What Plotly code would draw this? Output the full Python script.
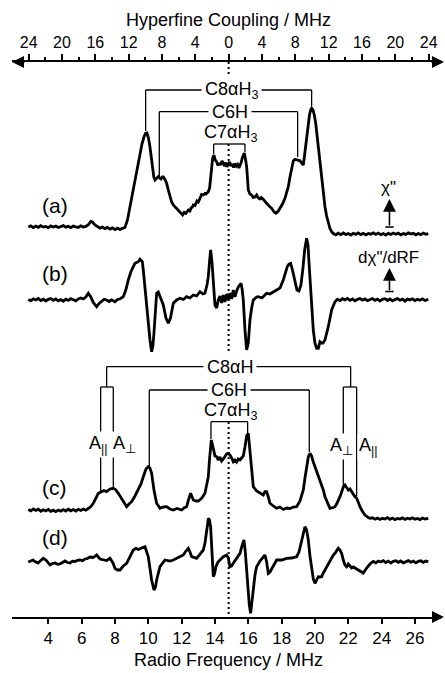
import plotly.graph_objects as go

# ---------------- data (frequency in MHz, intensity in arbitrary units) ----------------
larmor_h = 14.82  # proton Larmor frequency (MHz) -> hyperfine zero

spec_a = [
    (2.80, 3.0), (2.95, 4.2), (3.10, 2.4), (3.25, 3.9), (3.40, 2.7), (3.55, 4.3), (3.70, 2.9), (3.85, 3.6),
    (4.00, 2.3), (4.15, 4.1), (4.30, 3.0), (4.45, 3.9), (4.60, 2.5), (4.75, 3.6), (4.90, 4.4), (5.05, 2.9),
    (5.20, 3.7), (5.35, 2.4), (5.50, 3.9), (5.65, 3.1), (5.80, 2.6), (5.95, 4.1), (6.10, 3.0), (6.25, 3.6),
    (6.40, 5.2), (6.55, 8.6), (6.65, 8.0), (6.80, 5.0), (6.95, 3.2), (7.10, 1.9), (7.25, 3.0), (7.40, 1.4),
    (7.55, 2.6), (7.70, 0.9), (7.85, 2.1), (8.00, 0.4), (8.15, 1.8), (8.30, 0.5), (8.45, 1.6), (8.60, 2.5),
    (8.75, 10), (8.90, 23), (9.05, 36), (9.20, 50), (9.35, 64), (9.50, 77), (9.62, 86), (9.74, 93),
    (9.83, 96.5), (9.92, 97), (10.01, 92), (10.10, 83), (10.18, 72), (10.26, 60), (10.33, 53), (10.40, 50),
    (10.50, 52), (10.60, 53.5), (10.68, 52), (10.76, 51), (10.84, 53), (10.90, 53), (11.00, 50.5),
    (11.10, 46.7), (11.20, 40), (11.30, 33.3), (11.40, 28), (11.50, 25), (11.65, 22.5), (11.80, 20),
    (11.95, 17), (12.06, 15), (12.15, 17.5), (12.25, 16.5), (12.40, 20), (12.50, 19), (12.56, 22),
    (12.65, 23), (12.70, 25), (12.80, 24.5), (12.92, 29), (13.00, 28), (13.10, 31.7), (13.20, 35.5),
    (13.30, 35), (13.40, 36.5), (13.46, 36), (13.55, 38), (13.60, 38.3), (13.68, 42), (13.74, 50),
    (13.80, 62), (13.86, 71.7), (13.94, 75), (14.02, 70), (14.10, 68.3), (14.18, 64.5), (14.25, 67),
    (14.33, 65), (14.42, 69), (14.50, 67), (14.58, 64), (14.65, 67.5), (14.72, 63), (14.80, 66),
    (14.88, 68), (14.96, 64), (15.04, 66), (15.12, 62.5), (15.20, 66.5), (15.28, 64), (15.36, 65.5),
    (15.44, 62), (15.52, 65), (15.58, 68), (15.64, 72), (15.70, 76), (15.76, 77), (15.84, 70),
    (15.90, 63.3), (15.95, 52), (16.00, 40), (16.10, 36), (16.20, 35), (16.30, 32.5), (16.40, 33),
    (16.50, 35), (16.60, 32), (16.70, 31), (16.78, 32.5), (16.88, 31), (17.00, 28), (17.10, 26.7),
    (17.25, 24), (17.40, 21.7), (17.55, 18), (17.66, 16.7), (17.78, 18.5), (17.90, 21.7), (18.05, 26),
    (18.20, 31.7), (18.30, 37), (18.40, 43.3), (18.50, 53), (18.60, 63.3), (18.70, 69), (18.80, 70.7),
    (18.90, 70), (19.00, 69.5), (19.10, 69.3), (19.20, 67), (19.30, 65), (19.40, 78), (19.50, 93.3),
    (19.60, 108), (19.67, 115), (19.74, 120), (19.80, 121.7), (19.88, 120), (19.96, 115), (20.05, 106),
    (20.20, 83.3), (20.30, 66), (20.40, 50), (20.50, 36), (20.60, 23.3), (20.70, 14), (20.80, 6.7),
    (20.90, 1.5), (21.00, -1.7), (21.10, -3.5), (21.25, -4.8), (21.40, -3.2), (21.55, -4.6), (21.70, -3.0),
    (21.85, -4.5), (22.00, -3.6), (22.15, -5.0), (22.30, -3.3), (22.45, -4.4), (22.60, -2.9), (22.75, -4.6),
    (22.90, -3.4), (23.05, -4.9), (23.20, -3.5), (23.35, -4.2), (23.50, -2.8), (23.65, -4.4), (23.80, -3.1),
    (23.95, -4.7), (24.10, -3.6), (24.25, -5.0), (24.40, -3.4), (24.55, -4.5), (24.70, -3.0), (24.85, -4.3),
    (25.00, -3.2), (25.15, -4.9), (25.30, -3.6), (25.45, -4.4), (25.60, -2.9), (25.75, -4.1), (25.90, -3.3),
    (26.05, -4.8), (26.20, -3.5), (26.35, -4.6), (26.50, -3.1), (26.65, -4.3), (26.80, -3.6),
]

spec_b = [
    (2.80, 0.5), (2.95, -0.8), (3.10, 1.2), (3.25, 0.0), (3.40, 1.5), (3.55, -0.5), (3.70, 0.8), (3.85, -1.0),
    (4.00, 0.6), (4.15, 1.4), (4.30, -0.3), (4.45, 1.0), (4.60, -0.9), (4.75, 0.4), (4.90, -1.2), (5.05, 0.9),
    (5.20, -0.4), (5.35, 1.3), (5.50, 0.2), (5.65, -0.8), (5.80, 1.1), (5.95, 2.0), (6.10, 1.0), (6.25, 3.0),
    (6.40, 6.7), (6.55, 3.0), (6.70, -2.5), (6.90, -6.7), (7.05, -3.5), (7.20, -1.0), (7.35, 0.8), (7.50, 0.0),
    (7.65, -1.5), (7.80, 0.2), (8.00, -1.7), (8.15, 0.5), (8.30, 1.0), (8.50, 3.3), (8.65, 10), (8.80, 20),
    (8.95, 28), (9.10, 33.3), (9.20, 36.7), (9.30, 37.5), (9.40, 38.3), (9.50, 40.7), (9.58, 39.5),
    (9.64, 38.3), (9.70, 30), (9.80, 12), (9.90, -10), (10.00, -27), (10.10, -40), (10.20, -51.7),
    (10.28, -45), (10.34, -33), (10.42, -12), (10.50, 6.7), (10.60, 8), (10.70, 4), (10.80, 0),
    (10.90, -5), (11.06, -18), (11.20, -23.3), (11.33, -18), (11.50, -3.3), (11.70, 0), (11.90, 1.7),
    (12.10, 0.5), (12.30, 3.3), (12.50, 2), (12.70, 5), (12.90, 4), (13.10, 8.3), (13.28, 6), (13.40, 6.7),
    (13.52, 15), (13.60, 23.3), (13.67, 38), (13.74, 50), (13.82, 38), (13.90, 20), (14.00, -5),
    (14.10, -8), (14.20, 0), (14.30, 4), (14.40, -3), (14.50, 5), (14.60, -2), (14.70, 6), (14.80, 0),
    (14.90, 7), (15.00, 1), (15.10, 10), (15.20, 3), (15.30, 9), (15.40, 13), (15.50, 15), (15.56, 16.7),
    (15.62, 12), (15.70, 0), (15.80, -30), (15.90, -50), (16.00, -43), (16.10, -20), (16.20, -8),
    (16.30, 0), (16.50, 3), (16.60, 3.3), (16.82, 2), (17.10, 6.7), (17.30, 6), (17.50, 8), (17.70, 10),
    (17.90, 12), (18.10, 20), (18.22, 27), (18.34, 33.3), (18.44, 36), (18.54, 36.7), (18.65, 30),
    (18.80, 16.7), (18.92, 10), (19.04, 9), (19.16, 15), (19.28, 32), (19.38, 50), (19.50, 61.7),
    (19.58, 55), (19.67, 30), (19.80, -10), (19.90, -30), (20.00, -43.3), (20.10, -48.3), (20.20, -48.3),
    (20.30, -41.7), (20.40, -43), (20.48, -43), (20.60, -40), (20.80, -26.7), (21.00, -10), (21.20, -1.7),
    (21.35, 0.8), (21.50, -0.6), (21.65, 1.3), (21.80, 0.0), (21.95, 1.6), (22.10, -0.4), (22.25, 1.0),
    (22.40, -0.9), (22.55, 0.7), (22.70, 1.4), (22.85, -0.2), (23.00, 1.1), (23.15, -0.7), (23.30, 0.5),
    (23.45, 1.5), (23.60, -0.3), (23.75, 0.9), (23.90, -1.0), (24.05, 0.6), (24.20, 1.3), (24.35, -0.5),
    (24.50, 1.0), (24.65, -0.8), (24.80, 0.4), (24.95, 1.4), (25.10, -0.2), (25.25, 0.8), (25.40, -1.1),
    (25.55, 0.9), (25.70, 0.1), (25.85, 1.2), (26.00, -0.6), (26.15, 0.7), (26.30, -0.3), (26.45, 1.1),
    (26.60, -0.5), (26.80, 0.6),
]

spec_c = [
    (2.80, 2.5), (2.95, 1.2), (3.10, 3.0), (3.25, 1.5), (3.40, 2.8), (3.55, 0.8), (3.70, 2.2), (3.85, 1.0),
    (4.00, 2.6), (4.15, 0.6), (4.30, 1.8), (4.45, 0.4), (4.60, 2.0), (4.75, 0.8), (4.90, 2.4), (5.05, 1.0),
    (5.20, 2.8), (5.35, 1.2), (5.50, 2.5), (5.65, 1.0), (5.80, 2.7), (5.95, 1.5), (6.10, 3.0), (6.25, 1.8),
    (6.40, 3.5), (6.55, 5.5), (6.70, 8.7), (7.00, 18.7), (7.20, 20.3), (7.34, 21.5), (7.50, 20.3),
    (7.70, 23), (7.90, 23.7), (8.03, 22.5), (8.20, 18.7), (8.36, 14), (8.50, 10.3), (8.70, 5.3), (8.84, 8),
    (9.00, 10.3), (9.20, 16), (9.40, 22), (9.56, 28), (9.70, 35.3), (9.86, 43), (10.00, 45.3), (10.10, 44),
    (10.20, 38.7), (10.34, 22), (10.50, 8.7), (10.70, 3.7), (10.90, 5), (11.10, 5.3), (11.30, 3),
    (11.50, 2), (11.72, 3.5), (12.00, 2), (12.14, 4), (12.30, 5.3), (12.41, 12), (12.54, 18.7), (12.70, 12),
    (12.86, 11), (13.00, 11), (13.20, 13.7), (13.40, 18.7), (13.52, 27), (13.60, 35.3), (13.68, 54),
    (13.78, 72), (13.88, 65), (14.00, 56), (14.10, 55.3), (14.20, 52), (14.30, 55), (14.40, 51),
    (14.50, 53), (14.60, 55), (14.70, 58), (14.80, 58.7), (14.90, 57), (15.00, 54), (15.10, 50.3),
    (15.20, 52), (15.30, 50), (15.40, 53), (15.50, 52), (15.60, 54), (15.70, 56), (15.80, 65), (15.90, 76),
    (16.00, 78.7), (16.09, 64), (16.20, 48.7), (16.30, 25.3), (16.50, 21), (16.70, 18.7), (16.90, 17),
    (17.00, 20.3), (17.10, 20.3), (17.20, 15), (17.30, 8.7), (17.50, 6), (17.70, 3.7), (17.90, 5),
    (18.10, 2.5), (18.30, 4), (18.50, 3.5), (18.70, 5), (18.90, 5.3), (19.10, 11), (19.30, 22), (19.40, 34),
    (19.50, 45.3), (19.60, 55), (19.70, 58.7), (19.80, 56), (19.90, 50), (20.00, 45.3), (20.10, 42),
    (20.20, 38), (20.30, 32), (20.40, 28), (20.50, 22), (20.60, 15.3), (20.70, 11), (20.80, 7), (20.90, 3.7),
    (21.10, 4.5), (21.20, 5.3), (21.30, 8), (21.40, 11), (21.50, 15.3), (21.60, 20), (21.70, 25), (21.80, 27),
    (21.90, 25), (22.00, 22), (22.10, 23), (22.20, 20), (22.30, 18), (22.40, 15.3), (22.50, 14), (22.60, 9),
    (22.70, 5.3), (22.80, 2), (23.00, -3), (23.20, -5.5), (23.30, -6.3), (23.45, -5.8), (23.60, -7.2),
    (23.75, -6.0), (23.90, -7.5), (24.05, -6.3), (24.20, -7.0), (24.35, -5.6), (24.50, -7.3), (24.65, -6.1),
    (24.80, -7.6), (24.95, -6.4), (25.10, -7.0), (25.25, -5.9), (25.40, -7.4), (25.55, -6.2), (25.70, -7.1),
    (25.85, -5.8), (26.00, -7.3), (26.15, -6.5), (26.30, -7.6), (26.45, -6.0), (26.60, -7.0), (26.80, -6.4),
]

spec_d = [
    (2.80, 0), (2.94, 1.2), (3.08, 2), (3.23, 0.2), (3.38, -1), (3.55, 1.5), (3.70, 3.7), (3.86, 2),
    (4.10, -3), (4.25, -1.5), (4.40, -1), (4.55, -2.2), (4.70, -2), (4.85, -0.5), (5.00, 1), (5.15, -0.5),
    (5.30, -1), (5.45, 0.8), (5.60, 0.5), (5.75, 1.6), (5.90, 2), (6.05, 1.2), (6.20, 3), (6.35, 3.5),
    (6.50, 5), (6.70, 4.5), (6.90, 7), (7.10, 3), (7.30, 2), (7.50, 1.5), (7.70, 3.7), (7.88, -1),
    (8.00, -6.3), (8.15, -8), (8.30, -8), (8.50, -4), (8.70, -1.3), (8.90, 6), (9.10, 12), (9.26, 13.7),
    (9.40, 12.5), (9.60, 14), (9.80, 15.3), (10.00, 5.3), (10.10, -6), (10.20, -18), (10.34, -28),
    (10.43, -25), (10.50, -18), (10.60, -10), (10.70, -4.7), (11.00, 2), (11.30, 1), (11.50, 2),
    (11.78, 4), (12.10, 7), (12.26, 11), (12.40, 13.7), (12.50, 10), (12.60, 5.3), (12.90, 3.7),
    (13.10, 8), (13.30, 12), (13.40, 19), (13.50, 28.7), (13.56, 38), (13.60, 43.7), (13.67, 42),
    (13.74, 35.3), (13.82, 12), (13.90, -14.7), (13.97, -12), (14.06, -4.7), (14.18, 0), (14.30, 2),
    (14.50, 5.3), (14.70, 7), (14.80, 4), (14.90, -4.7), (15.00, -4), (15.10, -1.3), (15.30, 4),
    (15.50, 8.7), (15.62, 16), (15.74, 22), (15.82, 10), (15.90, -8), (15.98, -30), (16.06, -43),
    (16.14, -51.3), (16.22, -38), (16.30, -24.7), (16.40, -13), (16.50, -4.7), (16.70, 1), (16.90, 5),
    (17.00, 7), (17.10, 0), (17.20, -11.3), (17.30, -10), (17.40, -7), (17.70, 2), (18.00, 2),
    (18.30, 3.7), (18.60, 4), (18.90, 5.3), (19.04, 10), (19.20, 22), (19.30, 31), (19.40, 35.3),
    (19.50, 32), (19.60, 22), (19.70, 6), (19.80, -8), (19.90, -17), (20.00, -21.3), (20.10, -18),
    (20.20, -14.7), (20.30, -15), (20.40, -14.7), (20.50, -11), (20.60, -8), (20.80, -1), (20.90, 2),
    (21.10, 7), (21.20, 8.7), (21.30, 12), (21.40, 13.7), (21.50, 12), (21.60, 8.7), (21.70, 2),
    (21.80, -3), (21.90, -4.7), (22.00, -2), (22.10, -4), (22.20, -6), (22.30, -5), (22.50, -7),
    (22.70, -9), (22.90, -11), (23.10, -6), (23.30, -2), (23.50, 0.5), (23.65, -0.8), (23.80, 1.0),
    (23.95, 0.0), (24.10, 1.4), (24.25, -0.5), (24.40, 0.9), (24.55, -1.0), (24.70, 0.6), (24.85, 1.3),
    (25.00, -0.3), (25.15, 1.0), (25.30, -0.8), (25.45, 0.5), (25.60, 1.4), (25.75, -0.2), (25.90, 0.8),
    (26.05, -0.9), (26.20, 0.7), (26.35, 1.2), (26.50, -0.4), (26.65, 0.9), (26.80, 0.2),
]

panel_labels = ["(a)", "(b)", "(c)", "(d)"]

# peak assignments (MHz): pairs of ENDOR lines
assign_a_labels = ["C8αH<sub>3</sub>", "C6H", "C7αH<sub>3</sub>"]
assign_a_freqs = [(9.84, 19.80), (10.66, 18.96), (13.92, 15.80)]
assign_c_labels = ["C8αH", "C6H", "C7αH<sub>3</sub>"]
assign_c_freqs = [(7.50, 22.14), (10.06, 19.66), (13.76, 15.96)]
c8_par = (7.14, 22.50)    # A_parallel
c8_perp = (7.90, 21.70)   # A_perp

rf_ticks = list(range(4, 27, 2))
hf_ticks = list(range(-24, 25, 4))
hf_ticktext = [str(abs(t)) for t in hf_ticks]

# ---------------- figure ----------------
FONT = "Liberation Sans, Arial, Helvetica, sans-serif"
W, H = 445, 673
ML, MR, MT, MB = 12, 4, 62, 56
PW, PH = W - ML - MR, H - MT - MB
x0 = 4 + (ML - 48.3) * 0.06
x1 = 4 + (W - MR - 48.3) * 0.06

def v(ypix):
    return H - ypix

def px_paper(xpix):
    return (xpix - ML) / PW

def py_paper(ypix):
    return (H - MB - ypix) / PH

offsets = {"a": v(230), "b": v(300), "c": v(512), "d": v(562)}

fig = go.Figure()
for key, spec in (("a", spec_a), ("b", spec_b), ("c", spec_c), ("d", spec_d)):
    fig.add_trace(go.Scatter(
        x=[p[0] for p in spec], y=[offsets[key] + p[1] for p in spec],
        mode="lines", line=dict(color="black", width=2.8), hoverinfo="skip"))

# dotted line at hyperfine zero (drawn on the hyperfine axis)
fig.add_trace(go.Scatter(
    x=[0, 0, None, 0, 0, None, 0, 0],
    y=[v(62), v(82), None, v(144), v(358), None, v(422), v(617)],
    xaxis="x2", mode="lines", line=dict(color="black", width=2, dash="2px,3px"),
    hoverinfo="skip"))

shapes = []
def seg(xa, ya, xb, yb, w=1.3):
    shapes.append(dict(type="line", xref="x", yref="y", x0=xa, y0=ya, x1=xb, y1=yb,
                       line=dict(color="black", width=w)))

annotations = []
def label(x, y, text, size=18, bg=None, pad=1, xref="x", yref="y"):
    d = dict(x=x, y=y, xref=xref, yref=yref, text=text, showarrow=False,
             xanchor="center", yanchor="middle",
             font=dict(family=FONT, size=size, color="black"), borderpad=pad)
    if bg:
        d["bgcolor"] = bg
    annotations.append(d)

# (a) brackets
tops_a = [v(90), v(111.7), v(144)]
bots_a = [(v(131), v(106)), (v(176), v(157)), (v(154), v(152))]
for (fl, fr), top, (bl, br), txt in zip(assign_a_freqs, tops_a, bots_a, assign_a_labels):
    seg(fl, top, fr, top); seg(fl, top, fl, bl); seg(fr, top, fr, br)
label(larmor_h + 0.2, v(90), assign_a_labels[0], bg="white", pad=3)
label(larmor_h + 0.1, v(111.7), assign_a_labels[1], bg="white", pad=3)
label(larmor_h + 0.1, v(133), assign_a_labels[2])

# (c) brackets
c_top = v(366.7); c_sub = v(387)
fl, fr = assign_c_freqs[0]
seg(fl, c_top, fr, c_top); seg(fl, c_top, fl, c_sub); seg(fr, c_top, fr, c_sub)
seg(c8_par[0], c_sub, c8_perp[0], c_sub); seg(c8_perp[1], c_sub, c8_par[1], c_sub)
seg(c8_par[0], c_sub, c8_par[0], v(492)); seg(c8_perp[0], c_sub, c8_perp[0], v(489))
seg(c8_perp[1], c_sub, c8_perp[1], v(486)); seg(c8_par[1], c_sub, c8_par[1], v(496))
fl, fr = assign_c_freqs[1]
seg(fl, v(390), fr, v(390)); seg(fl, v(390), fl, v(466)); seg(fr, v(390), fr, v(452))
fl, fr = assign_c_freqs[2]
seg(fl, v(421.7), fr, v(421.7)); seg(fl, v(421.7), fl, v(439)); seg(fr, v(421.7), fr, v(433))
label(larmor_h + 0.1, v(366.7), assign_c_labels[0], bg="white", pad=3)
label(larmor_h, v(390), assign_c_labels[1], bg="white", pad=3)
label(larmor_h + 0.1, v(411.7), assign_c_labels[2])
label(c8_par[0] - 0.1, v(444), "A<sub>||</sub>", bg="white", pad=1)
label(c8_perp[0] + 0.7, v(444), "A<sub>⊥</sub>", bg="white", pad=1)
label(c8_perp[1] - 0.1, v(446), "A<sub>⊥</sub>", bg="white", pad=1)
label(c8_par[1] + 0.7, v(446), "A<sub>||</sub>", bg="white", pad=1)

# panel labels
for txt, ypix in zip(panel_labels, [205, 273, 487, 537]):
    label(4.40, v(ypix), txt, size=21)

# intensity scale arrows
xs = 24.47
for tip, bot, txt, ty in ((199, 227, 'χ"', 187), (268, 291.5, 'dχ"/dRF', 257)):
    annotations.append(dict(x=xs, y=v(tip), xref="x", yref="y", text="", showarrow=True,
                            ax=0, ay=bot - tip, arrowhead=2, arrowsize=1.6, arrowwidth=1.6,
                            arrowcolor="black"))
    seg(xs - 0.25, v(bot), xs + 0.25, v(bot), w=1.6)
    label(xs - 0.05, v(ty), txt, size=17)

# axis arrowheads (paper coordinates, may lie outside the plot area)
for xp, yp, ax in ((445, 617, -14), (444, 62, -14), (12, 62, 14)):
    annotations.append(dict(x=px_paper(xp), y=py_paper(yp), xref="paper", yref="paper", text="",
                            showarrow=True, ax=ax, ay=0, arrowhead=2, arrowsize=1.2,
                            arrowwidth=2, arrowcolor="black"))

# axis titles
label(larmor_h, py_paper(20), "Hyperfine Coupling / MHz", size=18, yref="paper")
label(larmor_h, py_paper(660), "Radio Frequency / MHz", size=18, yref="paper")

fig.update_layout(
    width=W, height=H, margin=dict(l=ML, r=MR, t=MT, b=MB, autoexpand=False),
    paper_bgcolor="white", plot_bgcolor="white", showlegend=False,
    font=dict(family=FONT, color="black"),
    shapes=shapes, annotations=annotations,
    xaxis=dict(range=[x0, x1], showgrid=False, zeroline=False, showline=True, linewidth=2,
               linecolor="black", ticks="outside", ticklen=5, tickwidth=2, tickcolor="black",
               tickvals=rf_ticks, tickfont=dict(size=17, family=FONT), fixedrange=True,
               automargin=False),
    xaxis2=dict(range=[2 * (x0 - larmor_h), 2 * (x1 - larmor_h)], overlaying="x", side="top",
                anchor="y", showgrid=False, zeroline=False, showline=True, linewidth=2,
                linecolor="black", ticks="outside", ticklen=6, tickwidth=2, tickcolor="black",
                tickvals=hf_ticks, ticktext=hf_ticktext, tickfont=dict(size=16, family=FONT),
                automargin=False,
                minor=dict(tickvals=list(range(-22, 23, 4)), ticks="outside", ticklen=3,
                           tickwidth=2, tickcolor="black")),
    yaxis=dict(range=[v(617), v(62)], visible=False, fixedrange=True, automargin=False),
)

fig.write_html("out.html", config={"displayModeBar": False},
               post_script="document.body.style.margin='0';document.body.style.overflow='hidden';")
